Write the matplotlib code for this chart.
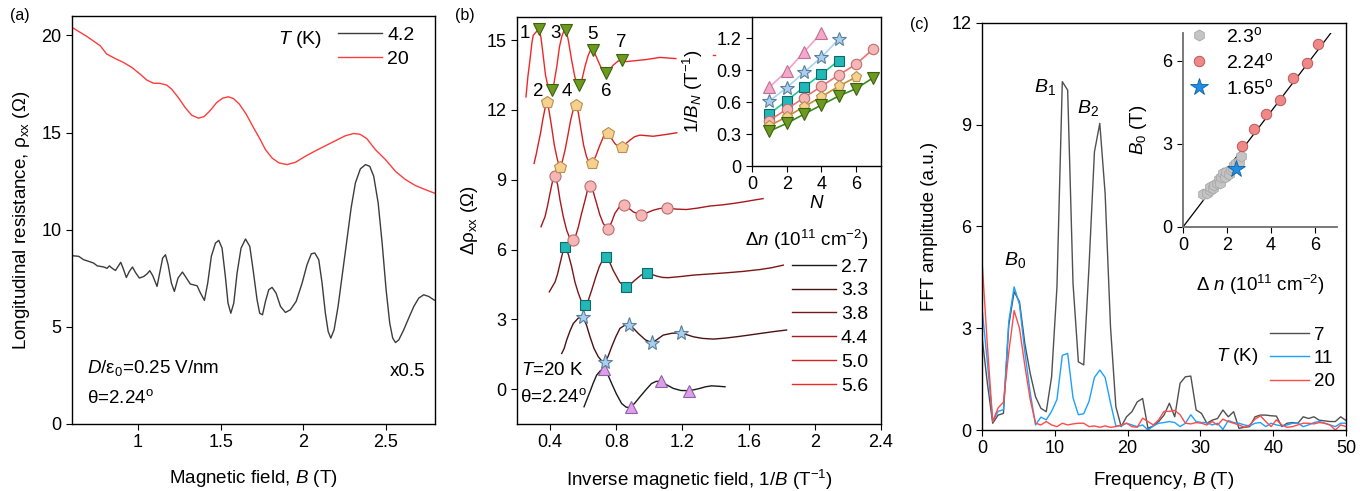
import numpy as np
import matplotlib
matplotlib.use("Agg")
import matplotlib.pyplot as plt
from matplotlib.lines import Line2D

plt.rcParams["font.family"] = ["Liberation Sans", "DejaVu Sans"]
plt.rcParams["mathtext.fontset"] = "custom"
plt.rcParams["mathtext.rm"] = "Liberation Sans"
plt.rcParams["mathtext.it"] = "Liberation Sans:italic"
plt.rcParams["font.size"] = 13
plt.rcParams["xtick.labelsize"] = 13
plt.rcParams["ytick.labelsize"] = 13
plt.rcParams["axes.linewidth"] = 1.0
plt.rcParams["xtick.direction"] = "out"
plt.rcParams["ytick.direction"] = "out"
plt.rcParams["xtick.major.size"] = 4
plt.rcParams["ytick.major.size"] = 4

LABEL_FS = 13.5

# ---------------- panel (a): rho_xx vs B ----------------
b_20k = [0.600, 0.689, 0.770, 0.810, 0.861, 0.911, 0.962, 1.012, 1.053, 1.093,
         1.133, 1.174, 1.204, 1.244, 1.285, 1.325, 1.366, 1.400, 1.436, 1.477,
         1.513, 1.547, 1.578, 1.614, 1.655, 1.699, 1.739, 1.772, 1.812, 1.853,
         1.903, 1.954, 2.014, 2.073, 2.133, 2.194, 2.255, 2.305, 2.345, 2.386,
         2.438, 2.499, 2.560, 2.620, 2.681, 2.741, 2.800]
rho_20k = [20.41, 19.95, 19.47, 19.04, 18.81, 18.61, 18.35, 18.01, 17.70, 17.54,
           17.53, 17.44, 17.23, 16.80, 16.29, 15.89, 15.74, 15.82, 16.12, 16.55,
           16.77, 16.84, 16.75, 16.46, 15.95, 15.26, 14.66, 14.12, 13.69, 13.44,
           13.35, 13.47, 13.78, 14.05, 14.31, 14.57, 14.83, 14.95, 14.91, 14.69,
           14.12, 13.61, 13.00, 12.58, 12.27, 12.06, 11.87]

b_4k = [0.600, 0.640, 0.671, 0.701, 0.731, 0.752, 0.792, 0.812, 0.826, 0.842,
        0.863, 0.879, 0.895, 0.909, 0.929, 0.947, 0.966, 0.984, 1.008, 1.034,
        1.055, 1.071, 1.089, 1.115, 1.135, 1.149, 1.166, 1.182, 1.202, 1.220,
        1.242, 1.269, 1.293, 1.317, 1.337, 1.358, 1.378, 1.402, 1.422, 1.444,
        1.469, 1.489, 1.509, 1.529, 1.545, 1.562, 1.580, 1.600, 1.624, 1.651,
        1.677, 1.697, 1.721, 1.737, 1.754, 1.772, 1.792, 1.812, 1.836, 1.863,
        1.893, 1.923, 1.958, 1.994, 2.024, 2.050, 2.071, 2.095, 2.115, 2.135,
        2.152, 2.168, 2.188, 2.212, 2.236, 2.263, 2.291, 2.317, 2.347, 2.378,
        2.404, 2.428, 2.455, 2.479, 2.503, 2.525, 2.543, 2.560, 2.580, 2.610,
        2.640, 2.671, 2.701, 2.731, 2.762, 2.792, 2.800]
rho_4k = [8.66, 8.63, 8.45, 8.37, 8.28, 8.14, 8.08, 8.01, 8.14, 8.02,
          7.90, 8.11, 8.32, 8.02, 7.54, 7.85, 8.08, 7.80, 7.51, 7.59,
          7.73, 7.89, 7.63, 7.08, 7.94, 8.54, 8.71, 8.20, 7.25, 6.82,
          7.51, 7.82, 7.51, 7.20, 7.16, 7.11, 6.74, 6.36, 7.25, 8.63,
          9.31, 9.45, 9.05, 7.59, 6.22, 5.70, 6.22, 7.77, 9.05, 9.52,
          9.14, 7.94, 6.39, 5.70, 5.62, 6.31, 6.91, 7.03, 6.74, 6.05,
          5.74, 5.88, 6.31, 7.25, 8.20, 8.76, 8.80, 8.45, 7.25, 5.70,
          4.76, 4.42, 4.85, 6.05, 7.59, 9.31, 11.12, 12.41, 13.13, 13.35,
          13.26, 12.75, 11.37, 9.31, 6.91, 5.19, 4.42, 4.19, 4.33, 4.85,
          5.45, 6.05, 6.48, 6.65, 6.56, 6.39, 6.36]

# ---------------- panel (b): delta rho_xx vs 1/B ----------------
dn_labels = ["2.7", "3.3", "3.8", "4.4", "5.0", "5.6"]
dn_colors = ["#1a1a1a", "#4a1212", "#7a1616", "#a8181c", "#d82020", "#f02828"]

inv_b_27 = [0.605, 0.622, 0.641, 0.660, 0.681, 0.705, 0.726, 0.750, 0.772, 0.800,
            0.832, 0.860, 0.886, 0.912, 0.943, 0.980, 1.013, 1.040, 1.070, 1.105,
            1.144, 1.190, 1.241, 1.275, 1.305, 1.340, 1.376, 1.420, 1.457]
drho_27 = [-0.76, -0.45, -0.11, 0.25, 0.60, 0.80, 0.85, 0.60, 0.24, -0.20,
           -0.62, -0.78, -0.79, -0.60, -0.33, -0.02, 0.24, 0.33, 0.34, 0.18,
           0.03, -0.06, -0.07, -0.02, 0.03, 0.10, 0.14, 0.12, 0.10]
inv_b_33 = [0.470, 0.485, 0.500, 0.520, 0.540, 0.570, 0.597, 0.620, 0.641, 0.665,
            0.691, 0.711, 0.731, 0.750, 0.772, 0.797, 0.822, 0.850, 0.878, 0.905,
            0.933, 0.975, 1.017, 1.050, 1.083, 1.135, 1.190, 1.230, 1.265, 1.320,
            1.386, 1.456, 1.527, 1.600, 1.668, 1.750, 1.829]
drho_33 = [1.53, 1.75, 2.11, 2.50, 2.82, 3.05, 3.11, 2.75, 2.25, 1.75,
           1.39, 1.22, 1.17, 1.40, 1.82, 2.25, 2.61, 2.74, 2.75, 2.60,
           2.39, 2.12, 1.99, 2.15, 2.32, 2.40, 2.42, 2.33, 2.25, 2.18,
           2.15, 2.19, 2.25, 2.32, 2.39, 2.47, 2.54]
inv_b_38 = [0.395, 0.430, 0.445, 0.460, 0.475, 0.490, 0.510, 0.530, 0.550, 0.571,
            0.590, 0.611, 0.630, 0.651, 0.675, 0.697, 0.717, 0.737, 0.760, 0.781,
            0.820, 0.858, 0.885, 0.912, 0.950, 0.987, 1.015, 1.043, 1.080, 1.114,
            1.190, 1.265, 1.366, 1.466, 1.567, 1.668, 1.740, 1.809]
drho_38 = [4.18, 4.61, 4.95, 5.40, 5.85, 6.09, 5.80, 5.26, 4.60, 4.11,
           3.75, 3.61, 3.80, 4.25, 4.80, 5.26, 5.55, 5.66, 5.45, 5.11,
           4.60, 4.37, 4.50, 4.68, 4.90, 5.00, 4.93, 4.86, 4.80, 4.79,
           4.84, 4.90, 4.95, 5.00, 5.06, 5.14, 5.22, 5.33]
inv_b_44 = [0.345, 0.369, 0.385, 0.399, 0.415, 0.430, 0.445, 0.460, 0.480, 0.500,
            0.518, 0.537, 0.555, 0.571, 0.590, 0.611, 0.626, 0.641, 0.660, 0.681,
            0.700, 0.721, 0.747, 0.770, 0.791, 0.820, 0.849, 0.875, 0.902, 0.952,
            0.985, 1.023, 1.060, 1.104, 1.160, 1.224, 1.290, 1.365, 1.440, 1.506,
            1.570, 1.627, 1.687]
drho_44 = [6.98, 7.41, 7.90, 8.41, 8.95, 9.15, 8.80, 8.12, 7.40, 6.83,
           6.50, 6.43, 6.60, 6.98, 7.55, 8.12, 8.55, 8.75, 8.50, 7.98,
           7.50, 7.12, 6.89, 7.15, 7.55, 7.85, 7.91, 7.78, 7.62, 7.48,
           7.58, 7.69, 7.76, 7.79, 7.74, 7.72, 7.78, 7.87, 7.92, 7.98,
           8.05, 8.12, 8.19]
inv_b_50 = [0.303, 0.316, 0.329, 0.342, 0.355, 0.370, 0.383, 0.395, 0.409, 0.425,
            0.440, 0.450, 0.460, 0.472, 0.490, 0.507, 0.524, 0.541, 0.556, 0.570,
            0.584, 0.602, 0.620, 0.637, 0.654, 0.675, 0.697, 0.722, 0.747, 0.770,
            0.791, 0.812, 0.832, 0.857, 0.882, 0.910, 0.943, 1.023, 1.104, 1.165]
drho_50 = [9.70, 10.10, 10.56, 11.00, 11.56, 12.10, 12.35, 11.90, 11.28, 10.50,
           9.99, 9.70, 9.56, 9.75, 10.27, 10.90, 11.56, 12.05, 12.21, 11.90,
           11.28, 10.50, 9.99, 9.72, 9.70, 10.00, 10.42, 10.85, 10.99, 10.78,
           10.56, 10.42, 10.42, 10.55, 10.70, 10.85, 10.92, 10.87, 10.95, 11.02]
inv_b_56 = [0.254, 0.265, 0.278, 0.290, 0.298, 0.315, 0.334, 0.345, 0.359, 0.372,
            0.383, 0.396, 0.409, 0.422, 0.440, 0.456, 0.470, 0.483, 0.496, 0.510,
            0.530, 0.550, 0.565, 0.577, 0.592, 0.610, 0.630, 0.645, 0.657, 0.672,
            0.701, 0.720, 0.736, 0.755, 0.782, 0.810, 0.836, 0.860, 0.902, 0.983,
            1.063, 1.160]
drho_56 = [12.56, 13.40, 14.14, 14.90, 15.21, 15.35, 15.50, 15.10, 14.28, 13.50,
           13.14, 12.90, 12.85, 13.10, 13.85, 14.70, 15.14, 15.40, 15.43, 15.00,
           14.14, 13.40, 13.10, 13.07, 13.30, 13.85, 14.35, 14.58, 14.60, 14.40,
           13.93, 13.65, 13.60, 13.70, 13.93, 14.10, 14.14, 14.08, 14.11, 14.17,
           14.26, 14.21]

# marker positions on the curves (extrema)
mk_x_27 = [0.726, 0.886, 1.070, 1.241]
mk_y_27 = [0.85, -0.79, 0.34, -0.07]
mk_x_33 = [0.597, 0.731, 0.878, 1.017, 1.190]
mk_y_33 = [3.11, 1.17, 2.75, 1.99, 2.42]
mk_x_38 = [0.490, 0.611, 0.737, 0.858, 0.987]
mk_y_38 = [6.09, 3.61, 5.66, 4.37, 5.00]
mk_x_44 = [0.430, 0.537, 0.641, 0.747, 0.849, 0.952, 1.104]
mk_y_44 = [9.15, 6.43, 8.75, 6.89, 7.91, 7.48, 7.79]
mk_x_50 = [0.383, 0.460, 0.556, 0.654, 0.747, 0.832]
mk_y_50 = [12.35, 9.56, 12.21, 9.70, 10.99, 10.42]
mk_x_56 = [0.334, 0.409, 0.496, 0.577, 0.657, 0.736, 0.836]
mk_y_56 = [15.50, 12.85, 15.43, 13.07, 14.60, 13.60, 14.14]

peak_labels = ["1", "2", "3", "4", "5", "6", "7"]
peak_label_x = [0.25, 0.33, 0.43, 0.50, 0.655, 0.74, 0.832]
peak_label_y = [15.3, 12.8, 15.3, 12.8, 15.25, 12.8, 14.9]

# inset (b): 1/B_N vs N
n_idx = [1, 2, 3, 4, 5, 6, 7]
invbn_27 = [0.74, 0.89, 1.07, 1.25]
invbn_33 = [0.61, 0.735, 0.88, 1.02, 1.19]
invbn_38 = [0.49, 0.613, 0.741, 0.861, 0.99]
invbn_44 = [0.427, 0.534, 0.641, 0.748, 0.855, 0.955, 1.10]
invbn_50 = [0.377, 0.462, 0.556, 0.65, 0.748, 0.836]
invbn_56 = [0.327, 0.40, 0.487, 0.572, 0.657, 0.726, 0.829]

# ---------------- panel (c): FFT ----------------
freq = np.linspace(0, 50, 69)
fft_7k = [2.75, 1.38, 0.20, 0.44, 0.49, 3.09, 4.08, 3.78, 2.55, 1.67, 0.98, 0.64,
          0.54, 1.57, 4.22, 10.27, 10.02, 4.32, 2.01, 1.92, 4.86, 8.20, 9.04, 6.97,
          3.05, 0.69, 0.10, 0.39, 0.54, 0.83, 0.93, 0.05, 0.12, 0.25, 0.44, 0.79,
          0.39, 1.38, 1.57, 1.59, 0.59, 0.49, 0.20, 0.29, 0.34, 0.59, 0.39, 0.54,
          0.05, 0.08, 0.10, 0.39, 0.44, 0.44, 0.42, 0.41, 0.10, 0.20, 0.22, 0.20,
          0.39, 0.34, 0.39, 0.29, 0.27, 0.25, 0.25, 0.39, 0.28]
fft_11k = [3.60, 2.00, 0.25, 0.55, 0.60, 3.20, 4.22, 3.70, 2.30, 1.10, 0.15, 0.38,
           0.30, 0.55, 0.90, 2.20, 2.26, 0.95, 0.45, 0.48, 0.85, 1.55, 1.77, 1.55,
           0.80, 0.12, 0.12, 0.20, 0.15, 0.10, 0.15, 0.00, 0.12, 0.20, 0.22, 0.25,
           0.22, 0.10, 0.20, 0.45, 0.25, 0.22, 0.22, 0.15, 0.20, 0.02, 0.28, 0.22,
           0.20, 0.15, 0.12, 0.20, 0.22, 0.10, 0.20, 0.15, 0.12, 0.15, 0.20, 0.20,
           0.10, 0.15, 0.22, 0.25, 0.20, 0.15, 0.10, 0.20, 0.20]
fft_20k = [5.00, 2.50, 0.25, 0.65, 0.82, 2.30, 3.52, 3.00, 1.90, 0.90, 0.20, 0.15,
           0.25, 0.15, 0.10, 0.20, 0.15, 0.18, 0.20, 0.20, 0.10, 0.12, 0.08, 0.12,
           0.08, 0.10, 0.15, 0.20, 0.10, 0.08, 0.35, 0.25, 0.15, 0.30, 0.55, 0.55,
           0.58, 0.45, 0.20, 0.18, 0.22, 0.20, 0.15, 0.25, 0.15, 0.32, 0.25, 0.20,
           0.15, 0.08, 0.15, 0.32, 0.42, 0.25, 0.10, 0.30, 0.15, 0.08, 0.10, 0.15,
           0.20, 0.20, 0.18, 0.22, 0.20, 0.15, 0.00, 0.15, 0.10]

# inset (c): B0 vs delta n
dn_23 = [0.90, 1.09, 1.24, 1.24, 1.36, 1.43, 1.54, 1.63, 1.66, 1.73, 1.84, 1.93,
         1.96, 2.08, 2.19, 2.29, 2.34, 2.41, 2.53, 2.64]
b0_23 = [1.19, 1.24, 1.33, 1.45, 1.39, 1.52, 1.58, 1.72, 1.58, 1.82, 1.94, 1.82,
         2.00, 1.92, 2.06, 2.12, 2.24, 2.30, 2.36, 2.57]
dn_224 = [2.68, 3.21, 3.79, 4.39, 4.99, 5.63, 6.14]
b0_224 = [2.91, 3.55, 4.07, 4.57, 5.39, 5.92, 6.61]
dn_165 = [2.41]
b0_165 = [2.08]
fit_dn = [0.0, 6.72]
fit_b0 = [0.0, 7.0]

fig = plt.figure(figsize=(13.7, 4.91), dpi=100)

# ---- (a)
ax1 = fig.add_axes([0.0526, 0.1365, 0.265, 0.831])
ax1.plot(b_4k, rho_4k, color="#3c3c3c", lw=1.0, label="4.2")
ax1.plot(b_20k, rho_20k, color="#ff3c3c", lw=1.0, label="20")
ax1.set_xlim(0.6, 2.8)
ax1.set_ylim(0, 21)
ax1.set_xticks([1, 1.5, 2, 2.5])
ax1.set_xticklabels(["1", "1.5", "2", "2.5"])
ax1.set_yticks([0, 5, 10, 15, 20])
ax1.set_xlabel("Magnetic field, $B$ (T)", fontsize=LABEL_FS, labelpad=12)
ax1.set_ylabel("Longitudinal resistance, ρ$_{\\rm xx}$ (Ω)", fontsize=LABEL_FS, labelpad=7)
ax1.legend(loc="upper left", bbox_to_anchor=(0.733, 0.975), frameon=False,
           borderpad=0, borderaxespad=0, handlelength=2.27, handletextpad=0.26,
           labelspacing=0.32, fontsize=14)
ax1.text(1.98, 19.8, "$T$ (K)", fontsize=14, ha="center", va="center")
ax1.text(0.69, 2.9, "$D$/ε$_0$=0.25 V/nm", fontsize=13.5, ha="left", va="center")
ax1.text(0.69, 1.34, "θ=2.24$^{\\rm o}$", fontsize=13.5, ha="left", va="center")
ax1.text(2.74, 2.68, "x0.5", fontsize=13.5, ha="right", va="center")

# ---- (b)
ax2 = fig.add_axes([0.3774, 0.1365, 0.2657, 0.829])
curves_b = [
    (inv_b_27, drho_27, mk_x_27, mk_y_27, "^", "#dda0e8", "#9060a8", 9),
    (inv_b_33, drho_33, mk_x_33, mk_y_33, "*", "#a8d0ee", "#5a7f9c", 11),
    (inv_b_38, drho_38, mk_x_38, mk_y_38, "s", "#22b8b8", "#106868", 7.5),
    (inv_b_44, drho_44, mk_x_44, mk_y_44, "o", "#f6b6b6", "#b87070", 8),
    (inv_b_50, drho_50, mk_x_50, mk_y_50, "p", "#f6d08e", "#b89050", 9),
    (inv_b_56, drho_56, mk_x_56, mk_y_56, "v", "#6b9a1f", "#3c6010", 9),
]
for (xs, ys, mx, my, mk, fc, ec, ms), col, lab in zip(curves_b, dn_colors, dn_labels):
    ax2.plot(xs, ys, color=col, lw=1.0, label=lab)
    ax2.plot(mx, my, ls="none", marker=mk, ms=ms, mfc=fc, mec=ec, mew=0.8)
ax2.plot([1.385, 1.395], [14.36, 14.36], color="#f02828", lw=1.0)
for t, x, y in zip(peak_labels, peak_label_x, peak_label_y):
    ax2.text(x, y, t, fontsize=13.5, ha="center", va="center")
ax2.set_xlim(0.2, 2.4)
ax2.set_ylim(-1.5, 16)
ax2.set_xticks([0.4, 0.8, 1.2, 1.6, 2.0, 2.4])
ax2.set_xticklabels(["0.4", "0.8", "1.2", "1.6", "2", "2.4"])
ax2.set_yticks([0, 3, 6, 9, 12, 15])
ax2.set_xlabel("Inverse magnetic field, 1/$B$ (T$^{-1}$)", fontsize=LABEL_FS, labelpad=12)
ax2.set_ylabel("Δρ$_{\\rm xx}$ (Ω)", fontsize=LABEL_FS, labelpad=5)
ax2.text(0.222, 0.79, "$T$=20 K", fontsize=13.5, ha="left", va="center")
ax2.text(0.215, -0.33, "θ=2.24$^{\\rm o}$", fontsize=13.5, ha="left", va="center")
handles = [Line2D([], [], color=c, lw=1.0) for c in dn_colors]
ax2.legend(handles, dn_labels, loc="lower right", bbox_to_anchor=(0.965, 0.072),
           frameon=False, borderpad=0, borderaxespad=0, handlelength=2.27,
           handletextpad=0.26, labelspacing=0.32, fontsize=14,
           title="Δ$n$ (10$^{11}$ cm$^{-2}$)", title_fontsize=13.5, alignment="right")

# inset (b)
ax2i = fig.add_axes([0.5489, 0.6619, 0.0942, 0.3035])
ins_b = [
    (invbn_27, "^", "#f4a8cc", "#c07090", "#f4a0c8", 8),
    (invbn_33, "*", "#a8d0ee", "#5a7f9c", "#a8d4f4", 10),
    (invbn_38, "s", "#22b8b8", "#106868", "#20c890", 7),
    (invbn_44, "o", "#f6b6b6", "#b87070", "#f07070", 7.5),
    (invbn_50, "p", "#f6d08e", "#b89050", "#c09030", 8),
    (invbn_56, "v", "#6b9a1f", "#3c6010", "#3a8a20", 8),
]
for ys, mk, fc, ec, lc, ms in ins_b:
    ax2i.plot(n_idx[:len(ys)], ys, color=lc, lw=1.2, marker=mk, ms=ms, mfc=fc, mec=ec, mew=0.8)
ax2i.set_xlim(0, 7.45)
ax2i.set_ylim(0, 1.4)
ax2i.set_xticks([0, 2, 4, 6])
ax2i.set_yticks([0, 0.3, 0.6, 0.9, 1.2])
ax2i.set_yticklabels(["0", "0.3", "0.6", "0.9", "1.2"])
ax2i.spines["top"].set_visible(False)
ax2i.spines["right"].set_visible(False)
ax2i.patch.set_alpha(0)
ax2i.set_xlabel("$N$", fontsize=LABEL_FS, labelpad=1)
ax2i.set_ylabel("1/$B_N$ (T$^{-1}$)", fontsize=LABEL_FS, labelpad=8)

# ---- (c)
ax3 = fig.add_axes([0.7168, 0.1242, 0.2657, 0.829])
ax3.plot(freq, fft_7k, color="#505050", lw=1.0, label="7")
ax3.plot(freq, fft_11k, color="#1ea0ff", lw=1.0, label="11")
ax3.plot(freq, fft_20k, color="#ff4a4a", lw=1.0, label="20")
ax3.set_xlim(0, 50)
ax3.set_ylim(0, 12)
ax3.set_xticks([0, 10, 20, 30, 40, 50])
ax3.set_yticks([0, 3, 6, 9, 12])
ax3.set_xlabel("Frequency, $B$ (T)", fontsize=LABEL_FS, labelpad=9)
ax3.set_ylabel("FFT amplitude (a.u.)", fontsize=LABEL_FS, labelpad=10)
ax3.text(4.6, 5.0, "$B_0$", fontsize=14, ha="center", va="center")
ax3.text(8.6, 10.1, "$B_1$", fontsize=14, ha="center", va="center")
ax3.text(14.6, 9.5, "$B_2$", fontsize=14, ha="center", va="center")
ax3.legend(loc="lower left", bbox_to_anchor=(0.791, 0.098), frameon=False,
           borderpad=0, borderaxespad=0, handlelength=2.08, handletextpad=0.26,
           labelspacing=0.33, fontsize=13.5)
ax3.text(35.0, 2.18, "$T$ (K)", fontsize=13.5, ha="center", va="center")

# inset (c)
ax3i = fig.add_axes([0.8635, 0.5377, 0.1124, 0.395])
ax3i.plot(fit_dn, fit_b0, color="black", lw=0.9)
ax3i.plot(dn_23, b0_23, ls="none", marker="h", ms=8, mfc="#c4c4c4", mec="#a8a8a8",
          mew=0.6, label="2.3$^{\\rm o}$")
ax3i.plot(dn_224, b0_224, ls="none", marker="o", ms=7.5, mfc="#f08888", mec="#b85858",
          mew=0.7, label="2.24$^{\\rm o}$")
ax3i.plot(dn_165, b0_165, ls="none", marker="*", ms=13, mfc="#1e8ee6", mec="#1060a0",
          mew=0.6, label="1.65$^{\\rm o}$")
ax3i.set_xlim(0, 7)
ax3i.set_ylim(0, 7)
ax3i.set_xticks([0, 2, 4, 6])
ax3i.set_yticks([0, 3, 6])
for side in ["top", "right"]:
    ax3i.spines[side].set_visible(False)
for side in ["left", "bottom"]:
    ax3i.spines[side].set_color("#6e6e6e")
    ax3i.spines[side].set_linewidth(1.3)
ax3i.patch.set_alpha(0)
ax3i.set_xlabel("Δ $n$ (10$^{11}$ cm$^{-2}$)", fontsize=LABEL_FS, labelpad=13)
ax3i.set_ylabel("$B_0$ (T)", fontsize=LABEL_FS, labelpad=10)
ax3i.legend(loc="upper left", bbox_to_anchor=(0.04, 1.036), frameon=False,
            borderpad=0, borderaxespad=0, handletextpad=0.9, labelspacing=0.3,
            fontsize=14, handlelength=1.0)

fig.text(0.007, 0.969, "(a)", fontsize=11.5, ha="left", va="center")
fig.text(0.332, 0.969, "(b)", fontsize=11.5, ha="left", va="center")
fig.text(0.664, 0.951, "(c)", fontsize=11.5, ha="left", va="center")

fig.savefig("out.png", dpi=100)
